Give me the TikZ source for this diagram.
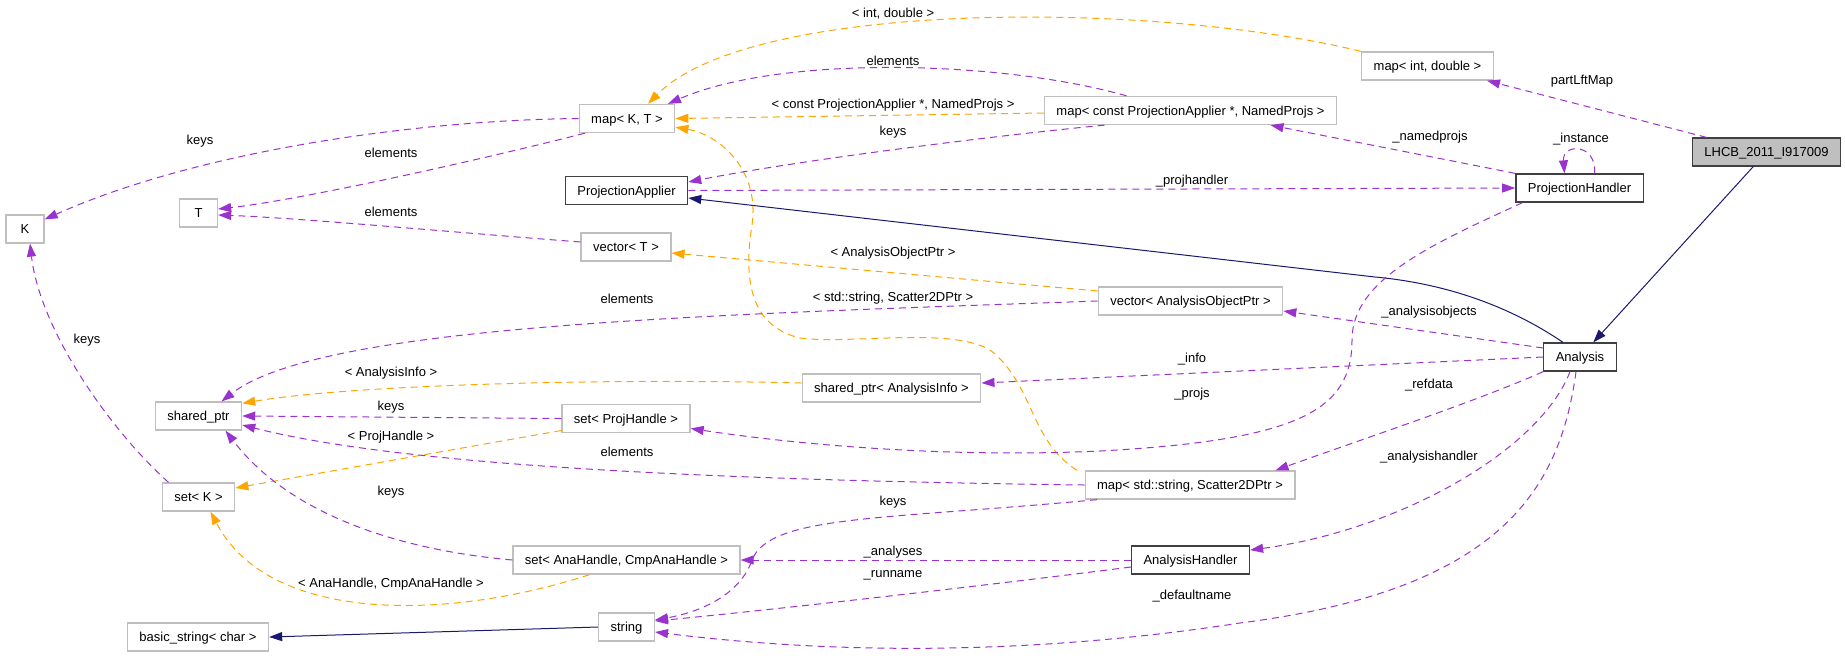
\documentclass[tikz,border=0pt]{standalone}
\usepackage{fontspec}
\setmainfont{Liberation Sans}
\usetikzlibrary{arrows.meta}

\begin{document}
\begin{tikzpicture}[x=1pt,y=-1pt]
  % Colors
  \definecolor{usecolor}{HTML}{9A32CD}
  \definecolor{tmplcolor}{HTML}{FFA500}
  \definecolor{basecolor}{HTML}{191970}
  \definecolor{undoccolor}{HTML}{BFBFBF}

  % Styles
  \tikzstyle{every node}=[font=\fontsize{13}{15}\selectfont]
  \tikzstyle{cls}=[draw=undoccolor,line width=1.3pt,fill=white,minimum height=28pt,
    minimum width=38pt,inner xsep=12pt,inner ysep=0pt,text height=9.3pt,text depth=0pt]
  \tikzstyle{doc cls}=[cls,draw=black!75]
  \tikzstyle{this cls}=[doc cls,fill=undoccolor]
  \tikzstyle{lab}=[inner sep=0pt,text height=9.3pt,text depth=0pt]
  \tikzstyle{usage edge}=[usecolor,line width=1pt,dash pattern=on 7pt off 5pt,
    -{Triangle[length=13pt,width=9pt]}]
  \tikzstyle{templ edge}=[usage edge,tmplcolor]
  \tikzstyle{inh edge}=[basecolor,line width=1pt,-{Triangle[length=13pt,width=9pt]}]

  \useasboundingbox (0,0) rectangle (1845,657);

  % The classes
  \node[cls] (K) at (25,229) {K};
  \node[cls] (T) at (198.5,213) {T};
  \node[cls] (mapKT) at (627,118.5) {map< K, T >};
  \node[doc cls] (projApplier) at (626.5,190.5) {ProjectionApplier};
  \node[cls] (vecT) at (626,247) {vector< T >};
  \node[cls] (sharedPtr) at (198.5,416) {shared\_ptr};
  \node[cls] (setK) at (198.5,497) {set< K >};
  \node[cls] (setProj) at (626,418.5) {set< ProjHandle >};
  \node[cls] (setAna) at (626.5,560) {set< AnaHandle, CmpAnaHandle >};
  \node[cls] (basicStr) at (198,637) {basic\_string< char >};
  \node[cls] (str) at (626.5,627) {string};
  \node[cls] (sharedInfo) at (891.5,388) {shared\_ptr< AnalysisInfo >};
  \node[cls] (mapProjs) at (1190.5,110.5) {map< const ProjectionApplier *, NamedProjs >};
  \node[cls] (vecAOP) at (1190.5,301) {vector< AnalysisObjectPtr >};
  \node[cls] (mapScat) at (1190,485) {map< std::string, Scatter2DPtr >};
  \node[doc cls] (anaHandler) at (1190.5,560) {AnalysisHandler};
  \node[cls] (mapLft) at (1427.5,66) {map< int, double >};
  \node[doc cls] (projHandler) at (1579.5,188) {ProjectionHandler};
  \node[doc cls] (analysis) at (1580,357) {Analysis};
  \node[this cls] (lhcb) at (1766.5,152) {LHCB\_2011\_I917009};

  % Inheritance
  \draw[inh edge] (lhcb) -- (analysis);
  \draw[inh edge] ([xshift=-17pt]analysis.north) .. controls (1505,303) and (1440,283) .. (1375,277)
    -- ([yshift=-7.5pt]projApplier.east);
  \draw[inh edge] (str.west) -- (basicStr.east);

  % Template arguments
  \draw[templ edge] (mapLft.north west) .. controls (1150,0) and (750,0) .. ([xshift=21pt]mapKT.north);
  \node[lab] (lIntDouble) at (893,13) {< int, double >};
  \draw[templ edge] ([yshift=-2.5pt]mapProjs.west) -- (mapKT.east);
  \node[lab] (lConstPA) at (893,104) {< const ProjectionApplier *, NamedProjs >};
  \draw[templ edge] ([yshift=10pt]vecAOP.west) -- ([yshift=-6pt]vecT.east);
  \node[lab] (lAOP) at (893,252) {< AnalysisObjectPtr >};
  \draw[templ edge] ([xshift=-113pt]mapScat.north) .. controls (1030,440) and (1035,390) .. (994,353)
    .. controls (960,325) and (850,345) .. (800,338)
    .. controls (745,325) and (745,270) .. (752,225)
    .. controls (760,170) and (720,135) .. ([yshift=6pt]mapKT.south east);
  \node[lab] (lStrScat) at (893,297) {< std::string, Scatter2DPtr >};
  \draw[templ edge] ([yshift=5pt]sharedInfo.west) .. controls (600,378) and (350,385) .. ([yshift=-2pt]sharedPtr.north east);
  \node[lab] (lInfo) at (391,372) {< AnalysisInfo >};
  \draw[templ edge] ([yshift=-12pt]setProj.west) -- ([yshift=9pt]setK.east);
  \node[lab] (lProjHandle) at (391,436) {< ProjHandle >};
  \draw[templ edge] ([xshift=-37pt]setAna.south) .. controls (450,620) and (270,625) .. ([xshift=12pt]setK.south);
  \node[lab] (lAnaHandle) at (391,583) {< AnaHandle, CmpAnaHandle >};

  % Usage
  \draw[usage edge] ([xshift=-64pt]mapProjs.north) .. controls (1000,60) and (780,55) .. ([xshift=41pt]mapKT.north);
  \node[lab] (lElemA) at (893,61) {elements};
  \draw[usage edge] ([xshift=-86pt]mapProjs.south) .. controls (1000,135) and (800,160) .. ([yshift=8.5pt]projApplier.east);
  \node[lab] (lKeysA) at (893,131) {keys};
  \draw[usage edge] (mapKT.west) .. controls (420,120) and (200,150) .. ([yshift=-5pt]K.north east);
  \node[lab] (lKeysB) at (200,140) {keys};
  \draw[usage edge] ([xshift=-42pt]mapKT.south) .. controls (480,160) and (300,200) .. ([yshift=4pt]T.east);
  \node[lab] (lElemB) at (391,153) {elements};
  \draw[usage edge] ([yshift=5pt]vecT.west) .. controls (450,232) and (300,218) .. ([yshift=-2pt]T.east);
  \node[lab] (lElemC) at (391,212) {elements};
  \draw[usage edge] ([xshift=-30pt]setK.north) .. controls (110,430) and (40,330) .. ([xshift=5pt]K.south);
  \node[lab] (lKeysC) at (87,339) {keys};
  \draw[usage edge] (vecAOP.west) .. controls (700,315) and (320,325) .. ([xshift=23pt]sharedPtr.north);
  \node[lab] (lElemD) at (627,299) {elements};
  \draw[usage edge] (setProj.west) -- (sharedPtr.east);
  \node[lab] (lKeysD) at (391,406) {keys};
  \draw[usage edge] (mapScat.west) .. controls (700,480) and (400,465) .. ([yshift=-9pt]sharedPtr.east);
  \node[lab] (lElemE) at (627,452) {elements};
  \draw[usage edge] (setAna.west) .. controls (400,550) and (290,515) .. ([xshift=27pt]sharedPtr.south);
  \node[lab] (lKeysE) at (391,491) {keys};
  \draw[usage edge] ([xshift=-93pt]mapScat.south) .. controls (880,520) and (770,515) .. (752,560)
    .. controls (740,595) and (700,612) .. ([yshift=7pt]str.east);
  \node[lab] (lKeysF) at (893,501) {keys};
  \draw[usage edge] (anaHandler.west) -- (setAna.east);
  \node[lab] (lAnalyses) at (893,551) {\_analyses};
  \draw[usage edge] ([yshift=-7pt]anaHandler.west) .. controls (950,590) and (750,612) .. ([yshift=6pt]str.east);
  \node[lab] (lRunname) at (893,573) {\_runname};
  \draw[usage edge] ([xshift=-4pt]analysis.south) .. controls (1560,490) and (1500,590) .. (1240,623)
    .. controls (1000,660) and (800,650) .. ([yshift=-5pt]str.east);
  \node[lab] (lDefault) at (1192,595) {\_defaultname};
  \draw[usage edge] ([xshift=-10pt]analysis.south) .. controls (1540,450) and (1400,530) .. ([yshift=10pt]anaHandler.east);
  \node[lab] (lAnaHandler) at (1429,456) {\_analysishandler};
  \draw[usage edge] (analysis.south west) .. controls (1480,400) and (1360,440) .. ([xshift=-20pt]mapScat.north east);
  \node[lab] (lRefdata) at (1429,384) {\_refdata};
  \draw[usage edge] ([yshift=9pt]analysis.west) -- ([yshift=-10pt]vecAOP.east);
  \node[lab] (lAnaObjects) at (1429,311) {\_analysisobjects};
  \draw[usage edge] (analysis.west) -- ([yshift=5pt]sharedInfo.east);
  \node[lab] (lInfoMember) at (1192,358) {\_info};
  \draw[usage edge] ([xshift=-57pt]projHandler.south) .. controls (1430,245) and (1352,280) .. (1352,340)
    .. controls (1352,410) and (1300,440) .. (1100,451)
    .. controls (950,458) and (800,445) .. ([yshift=-10pt]setProj.east);
  \node[lab] (lProjs) at (1192,393) {\_projs};
  \draw[usage edge] (projApplier.east) -- (projHandler.west);
  \node[lab] (lProjHandler) at (1192,180) {\_projhandler};
  \draw[usage edge] (projHandler.north west) -- ([xshift=80pt]mapProjs.south);
  \node[lab] (lNamedProjs) at (1430,136) {\_namedprojs};
  \draw[usage edge] ([xshift=15pt]projHandler.north) .. controls (1597,143) and (1562,143) .. ([xshift=-15pt]projHandler.north);
  \node[lab] (lInstance) at (1581,138) {\_instance};
  \draw[usage edge] ([xshift=-60pt]lhcb.north) -- ([xshift=-7pt]mapLft.south east);
  \node[lab] (lPartLft) at (1582,80) {partLftMap};
\end{tikzpicture}
\end{document}
